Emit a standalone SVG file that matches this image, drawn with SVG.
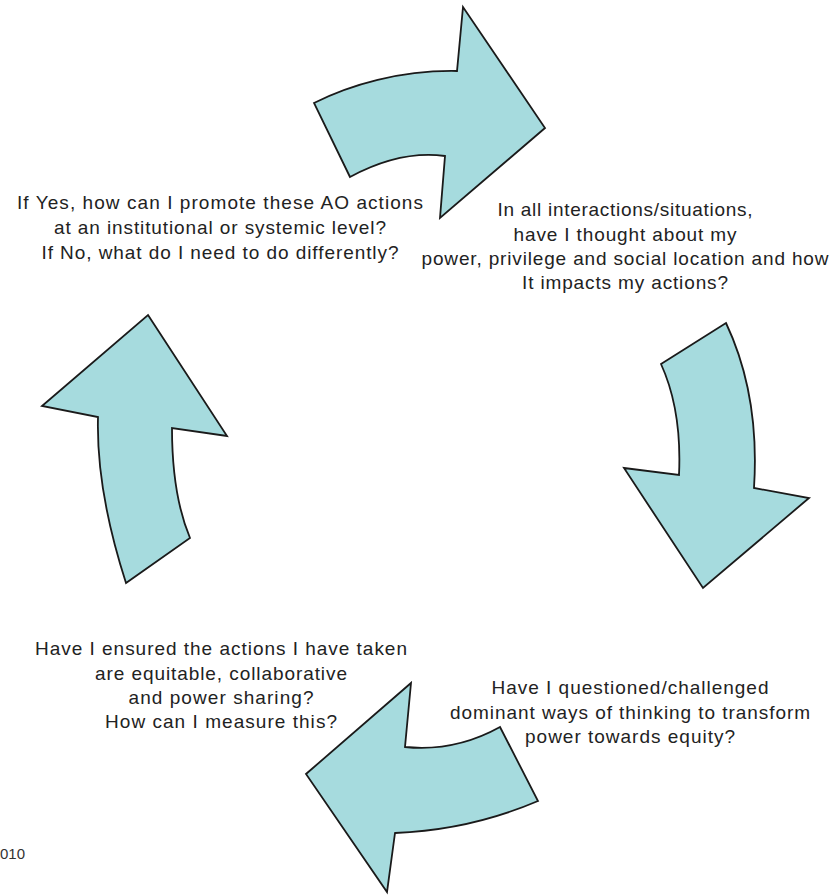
<svg xmlns="http://www.w3.org/2000/svg" width="838" height="895" viewBox="0 0 838 895">
<style>
.arrow{fill:#a6dbde;stroke:#1a1a1a;stroke-width:1.8;stroke-linejoin:miter}
.t{font-family:"Liberation Sans",Arial,sans-serif;font-size:19px;fill:#222;text-anchor:middle}
.f{font-family:"Liberation Sans",Arial,sans-serif;font-size:15px;fill:#333}
</style>
<rect width="838" height="895" fill="#ffffff"/>
<g id="connectors">
<path id="arrow-top" class="arrow" d="M350,177 L314,103 C350,85 400,70 457,71 L463,7 L545,128 L440,218 L445,156 Q400,150 350,177 Z"/>
<path id="arrow-right" class="arrow" d="M661,364 L726,323 Q760,395 754,488 L809,498 L703,588 L624,468 L679,475 Q682,410 661,364 Z"/>
<path id="arrow-bottom" class="arrow" d="M500,727 L538,801 Q470,830 395,833 L387,892 L306,774 L411,683 L405,747 Q455,752 500,727 Z"/>
<path id="arrow-left" class="arrow" d="M148,315 L227,436 L172,428 Q172,495 190,538 L126,583 Q96,490 98,417 L42,406 Z"/>
</g>
<g id="node-institutional">
<text class="t" x="220" y="209" textLength="406">If Yes, how can I promote these AO actions</text>
<text class="t" x="220" y="234" textLength="332">at an institutional or systemic level?</text>
<text class="t" x="220" y="259" textLength="357">If No, what do I need to do differently?</text>
</g>
<g id="node-power">
<text class="t" x="625" y="216" textLength="255">In all interactions/situations,</text>
<text class="t" x="625" y="241" textLength="223">have I thought about my</text>
<text class="t" x="625" y="265" textLength="407">power, privilege and social location and how</text>
<text class="t" x="625" y="289" textLength="206">It impacts my actions?</text>
</g>
<g id="node-challenge">
<text class="t" x="630" y="694" textLength="277">Have I questioned/challenged</text>
<text class="t" x="630" y="719" textLength="360">dominant ways of thinking to transform</text>
<text class="t" x="630" y="743" textLength="210">power towards equity?</text>
</g>
<g id="node-equitable">
<text class="t" x="221" y="655" textLength="372">Have I ensured the actions I have taken</text>
<text class="t" x="221" y="680" textLength="252">are equitable, collaborative</text>
<text class="t" x="221" y="704" textLength="185">and power sharing?</text>
<text class="t" x="221" y="728" textLength="232">How can I measure this?</text>
</g>
<g id="footer">
<text class="f" x="0" y="859">010</text>
</g>
</svg>
